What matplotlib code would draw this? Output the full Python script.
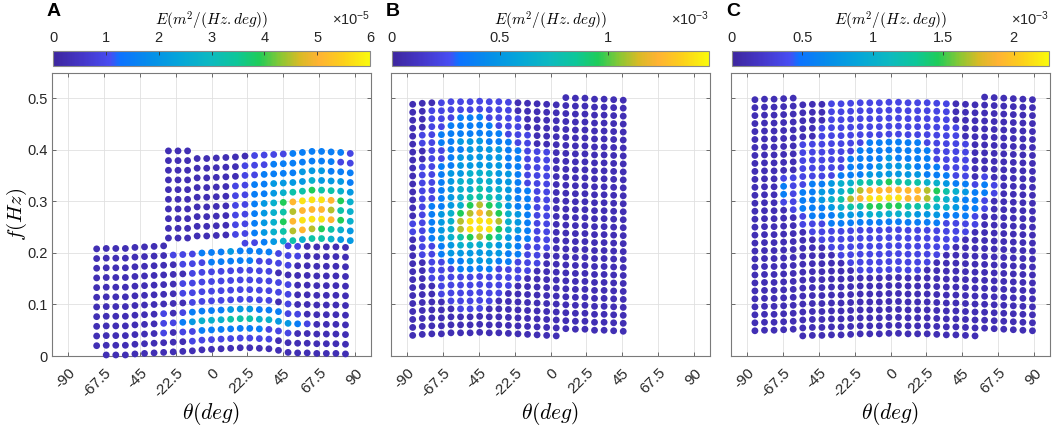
import numpy as np
import matplotlib.pyplot as plt
import matplotlib.transforms as mtrans
from matplotlib.colors import LinearSegmentedColormap, Normalize
from matplotlib.cm import ScalarMappable

plt.rcParams['font.family'] = ['Liberation Sans', 'DejaVu Sans']
plt.rcParams['mathtext.fontset'] = 'cm'
plt.rcParams['axes.unicode_minus'] = False

# parula-like colormap, colours
parula_pts = [(0.00, (0.24, 0.15, 0.62)), (0.10, (0.27, 0.22, 0.80)),
              (0.18, (0.28, 0.30, 0.95)), (0.21, (0.05, 0.45, 1.00)),
              (0.30, (0.02, 0.55, 0.92)), (0.40, (0.02, 0.65, 0.85)),
              (0.50, (0.05, 0.73, 0.75)), (0.58, (0.05, 0.78, 0.60)),
              (0.65, (0.12, 0.80, 0.35)), (0.72, (0.55, 0.78, 0.20)),
              (0.78, (0.85, 0.73, 0.15)), (0.84, (1.00, 0.70, 0.20)),
              (0.92, (0.99, 0.82, 0.10)), (1.00, (0.98, 0.98, 0.05))]
parula = LinearSegmentedColormap.from_list('parula', parula_pts)

# ---------------- data ----------------
# energy level per dot: digit d -> E = (d + 0.5)/10 * vmax ; '.' = no dot
# panel A : two grids (lower and upper), columns listed bottom -> top
A_vmax = 6e-5
A_df = 0.0188
A_low_theta = [-72, -66, -60, -54, -48, -42, -36, -30, -24, -18, -12, -6, 0, 6,
               12, 18, 24, 30, 36, 42, 48, 54, 60, 66, 72, 78, 84]
A_low_f0 = [0.020, 0.002, 0.002, 0.002, 0.004, 0.005, 0.006, 0.007, 0.008,
            0.009, 0.010, 0.012, 0.013, 0.014, 0.015, 0.016, 0.016, 0.015,
            0.014, 0.011, 0.007, 0.006, 0.006, 0.005, 0.005, 0.005, 0.004]
A_low_lev = ["00000000000", "000000000000", "000000000000", "000000000000",
             "000000000000", "000000000000", "000000000000", "001110000000",
             "00010000001", "00121011011", "01132111111", "01242111112",
             "01242111122", "01242111122", "01253111123", "01253111122",
             "01253111122", "01242111112", "01142111112", "00132011011",
             "001311110111", "000210000011", "000100000000", "000000000000",
             "000000000000", "000000000000", "000000000000"]
A_up_theta = [-27, -21, -15, -9, -3, 3, 9, 15, 21, 27, 33, 39, 45, 51, 57, 63,
              69, 75, 81, 87]
A_up_f0 = [0.229, 0.229, 0.229, 0.233, 0.233, 0.234, 0.235, 0.236, 0.219,
           0.220, 0.221, 0.222, 0.223, 0.224, 0.226, 0.228, 0.228, 0.227,
           0.226, 0.224]
A_up_lev = ["0000000000", "0000000000", "0000000000", "000000000", "000000000",
            "000000000", "000000000", "111111000", "1111111110", "1222222111",
            "2333322211", "3444433221", "4565643221", "5787853222",
            "4898953322", "5798964322", "5698953322", "4587853222",
            "3465643212", "3344432211"]

# panel B : rows listed top -> bottom, one character per column
B_vmax = 1.47e-3
B_df = 0.01547
B_theta = [-86.4, -80.4, -74.4, -68.4, -62.4, -56.4, -50.4, -44.4, -38.4,
           -32.4, -26.4, -20.4, -14.4, -8.4, -2.4, 3.6, 9.6, 15.6, 21.6, 27.6,
           33.6, 39.6, 45.6]
B_f0 = [0.040, 0.042, 0.043, 0.043, 0.045, 0.045, 0.045, 0.046, 0.045, 0.045,
        0.044, 0.043, 0.042, 0.041, 0.040, 0.039, 0.053, 0.052, 0.052, 0.050,
        0.050, 0.049, 0.048]
B_rows = ["00011111111000000000000", "00111111111000000000000",
          "00111222111100000000000", "00112222211100000000000",
          "01122222221110000000000", "01122333222110000000000",
          "00112233332211100000000", "00112333332211100000000",
          "01122333332211100000000", "01123344433211100000000",
          "01123444433211100000000", "01123445443221100000000",
          "01123455543221100000000", "01223467653221100000000",
          "01234678764321100000000", "11234799974321100000000",
          "11234799964321100000000", "01234567653221100000000",
          "01123444433211100000000", "01123333332211000000000",
          "00112233322111000000000", "00111222211110000000000",
          "00111111111100000000000", "00011111111000000000000",
          "00011111110000000000000", "00001111100000000000000",
          "00000111000000000000000", "00000000000000000000000",
          "00000000000000000000000", "00000000000000000000000"]

# panel C : rows listed top -> bottom
C_vmax = 2.25e-3
C_df = 0.01547
C_theta = [-85, -79, -73, -67, -61, -55, -49, -43, -37, -31, -25, -19, -13, -7,
           -1, 5, 11, 17, 23, 29, 35, 41, 47, 53, 59, 65, 71, 77, 83, 89]
C_f0 = [0.049, 0.050, 0.050, 0.051, 0.052, 0.039, 0.040, 0.040, 0.041, 0.041,
        0.042, 0.043, 0.043, 0.043, 0.044, 0.044, 0.043, 0.043, 0.043, 0.042,
        0.041, 0.041, 0.040, 0.039, 0.054, 0.053, 0.052, 0.051, 0.050, 0.049]
C_rows = ["000000001111111111111000000000", "000000001111111111111000000000",
          "000000001111111111111000000000", "000000011111111111111100000000",
          "000000011111111111111100000000", "000001111111222222111110000000",
          "000001111112222222211110000000", "000001111122223222211110000000",
          "000001111122233332221110000000", "000001111222333333222110000000",
          "000111223445556555443221100000", "000212233457888888765432210000",
          "000212234578999988754322210000", "000112223455666655544322100000",
          "000011222333444443332221100000", "000001112222222222221111000000",
          "000000111111111111111110000000", "000000011111111111111100000000",
          "000000001111111111111000000000", "000000000111111111110000000000",
          "000000000011111111100000000000", "000000000001111111000000000000",
          "000000000000000000000000000000", "000000000000000000000000000000",
          "000000000000000000000000000000", "000000000000000000000000000000",
          "000000000000000000000000000000", "000000000000000000000000000000",
          "000000000000000000000000000000", "000000000000000000000000000000"]

x_ticks = [-90, -67.5, -45, -22.5, 0, 22.5, 45, 67.5, 90]
x_labels = ['-90', '-67.5', '-45', '-22.5', '0', '22.5', '45', '67.5', '90']
y_ticks = [0, 0.1, 0.2, 0.3, 0.4, 0.5]
y_labels = ['0', '0.1', '0.2', '0.3', '0.4', '0.5']

A_cb_ticks = [0, 1, 2, 3, 4, 5, 6]
B_cb_ticks = [0, 0.5, 1]
C_cb_ticks = [0, 0.5, 1, 1.5, 2]


def rows_to_cols(rows):
    # rows top -> bottom  ->  column strings bottom -> top
    return [''.join(r[i] for r in reversed(rows)) for i in range(len(rows[0]))]


def grid_points(theta, f0, levels, df, vmax):
    xs, ys, es = [], [], []
    for th, fb, col in zip(theta, f0, levels):
        for j, ch in enumerate(col):
            if ch == '.':
                continue
            xs.append(th)
            ys.append(fb + j * df)
            es.append((int(ch) + 0.5) / 10 * vmax)
    return xs, ys, es


W, H = 1052, 426
fig = plt.figure(figsize=(W / 100, H / 100), dpi=100)

panels = [
    ('A', 52, [(A_low_theta, A_low_f0, A_low_lev), (A_up_theta, A_up_f0, A_up_lev)],
     A_df, A_vmax, 1e-5, A_cb_ticks, '-5'),
    ('B', 391, [(B_theta, B_f0, rows_to_cols(B_rows))],
     B_df, B_vmax, 1e-3, B_cb_ticks, '-3'),
    ('C', 731, [(C_theta, C_f0, rows_to_cols(C_rows))],
     C_df, C_vmax, 1e-3, C_cb_ticks, '-3'),
]

shift = mtrans.ScaledTranslation(8 / 100, 0, fig.dpi_scale_trans)

for k, (letter, left, grids, df, vmax, scale, cb_ticks, expo) in enumerate(panels):
    ax = fig.add_axes([left / W, 1 - 356 / H, 319 / W, (356 - 72.7) / H])
    for theta, f0, lev in grids:
        xs, ys, es = grid_points(theta, f0, lev, df, vmax)
        ax.scatter(xs, ys, c=es, cmap=parula, vmin=0, vmax=vmax, s=24,
                   edgecolors='none', clip_on=False, zorder=3)
    ax.set_xlim(-100, 100)
    ax.set_ylim(0, 0.55)
    ax.set_xticks(x_ticks)
    ax.set_xticklabels(x_labels, rotation=45, ha='right', va='top',
                       rotation_mode='anchor', fontsize=11, color='#262626')
    for lab in ax.get_xticklabels():
        lab.set_transform(lab.get_transform() + shift)
    ax.set_yticks(y_ticks)
    if k == 0:
        ax.set_yticklabels(y_labels, fontsize=10.5, color='#262626')
        ax.set_ylabel(r'$f(Hz)$', fontsize=15, labelpad=-1)
    else:
        ax.set_yticklabels([])
    ax.set_xlabel(r'$\theta(deg)$', fontsize=15.5, labelpad=0)
    ax.grid(True, color='#e0e0e0', linewidth=0.6)
    ax.set_axisbelow(True)
    ax.tick_params(direction='in', top=True, right=True, length=3, width=0.6,
                   color='#555555', pad=3)
    ax.tick_params(axis='x', pad=7)
    for sp in ax.spines.values():
        sp.set_color('#7a7a7a')
        sp.set_linewidth(0.8)

    # colorbar on top
    cax = fig.add_axes([(left + 1) / W, 1 - 65.5 / H, 317 / W, 14.5 / H])
    sm = ScalarMappable(norm=Normalize(0, vmax / scale), cmap=parula)
    cb = fig.colorbar(sm, cax=cax, orientation='horizontal', ticks=cb_ticks)
    cax.xaxis.set_ticks_position('top')
    cax.xaxis.set_label_position('top')
    cax.set_xticklabels([('%g' % t) for t in cb_ticks], fontsize=10.5, color='#262626')
    cax.tick_params(direction='in', length=3, width=0.6, color='#333333', pad=4)
    cb.outline.set_edgecolor('#8a8a8a')
    cb.outline.set_linewidth(0.8)
    cax.set_xlabel(r'$E(m^2/(Hz.deg))$', fontsize=11, labelpad=4)
    fig.text((left + 318) / W, 1 - 9 / H, r'$\mathregular{\times10^{%s}}$' % expo,
             fontsize=10.5, ha='right', va='top', color='#262626')

    fig.text((left - 5) / W, 1 - 3 / H, letter, fontsize=14, fontweight='bold',
             ha='left', va='top')

fig.savefig('out.png', dpi=100)
